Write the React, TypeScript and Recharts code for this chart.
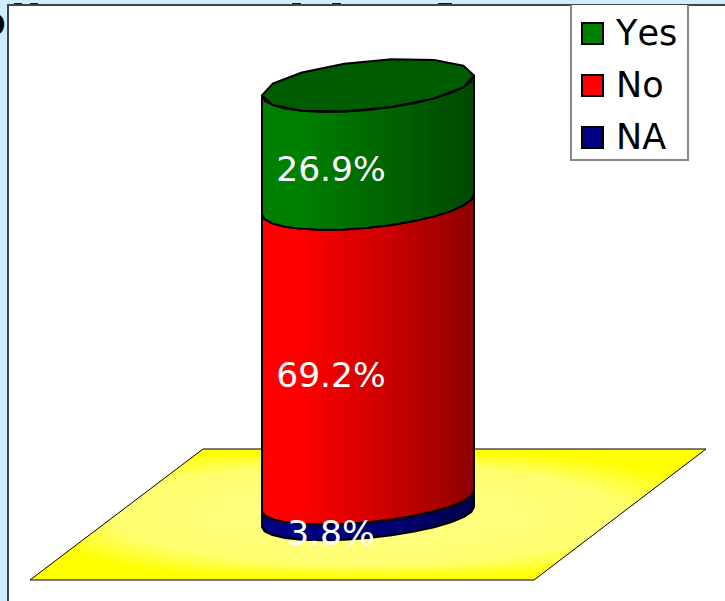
import { BarChart, Bar, XAxis, YAxis, LabelList, Legend, Customized } from "recharts";

const CATEGORIES = ["Response"];
const YES_VALUES = [26.9];
const NO_VALUES = [69.2];
const NA_VALUES = [3.8];

const data = CATEGORIES.map((name, i) => ({
  name,
  Yes: YES_VALUES[i],
  No: NO_VALUES[i],
  NA: NA_VALUES[i],
}));

const WIDTH = 725;
const HEIGHT = 601;
const MARGIN = { top: 85, right: 100, bottom: 84, left: 111 };
const PLOT_H = HEIGHT - MARGIN.top - MARGIN.bottom;
const FONT = "'DejaVu Sans', sans-serif";
const FLOOR_POINTS = "203,449 706,449 534,580 30,580";

// rim of the cylinder, a skewed ellipse
const RIM_SKEW = 10;
const RIM_STEPS = 14;
// the source is a perspective view, so the scale sags a little along the height
const SAG = 13;

// bits of the page title that stick out above the panel
const TITLE_TIPS = [
  [14, 8],
  [30, 8],
  [292, 9],
  [332, 9],
  [438, 14],
];

function heightShare(y: number) {
  return (MARGIN.top + PLOT_H - y) / PLOT_H;
}

function project(y: number) {
  const t = heightShare(y);
  return y + SAG * t * (1 - t);
}

function rimPoints(cx: number, rx: number, y: number, from: number, to: number) {
  const depth = 21 + 3.5 * heightShare(y); // rims open up towards the top
  const pts: string[] = [];
  for (let i = 0; i <= RIM_STEPS; i++) {
    const a = from + ((to - from) * i) / RIM_STEPS;
    const px = cx + rx * Math.cos(a);
    const py = y - RIM_SKEW * Math.cos(a) + depth * Math.sin(a);
    pts.push(`${px.toFixed(1)},${py.toFixed(1)}`);
  }
  return pts;
}

function CylinderSegment(props: any) {
  const { x, y, width, height, gradient, cap, capColor } = props;
  const rx = width / 2;
  const cx = x + rx;
  const top = project(y);
  const bottom = project(y + height);
  const lower = rimPoints(cx, rx, bottom, Math.PI, 0);
  const upper = rimPoints(cx, rx, top, 0, Math.PI);
  return (
    <g>
      <polygon
        points={[...lower, ...upper].join(" ")}
        fill={`url(#${gradient})`}
        stroke="#000"
        strokeWidth={2}
        strokeLinejoin="round"
      />
      {cap && (
        <polygon
          points={rimPoints(cx, rx, top, 0, Math.PI * 2).join(" ")}
          fill={capColor}
          stroke="#000"
          strokeWidth={2}
          strokeLinejoin="round"
        />
      )}
    </g>
  );
}

function Floor() {
  return (
    <g>
      <polygon points={FLOOR_POINTS} fill="url(#floorGrad)" />
      <polygon points={FLOOR_POINTS} fill="url(#floorEdge)" stroke="#000" strokeWidth={1} />
    </g>
  );
}

function LegendBox({ payload }: any) {
  const items = [...(payload || [])].reverse();
  return (
    <div
      style={{
        width: 119,
        height: 156,
        boxSizing: "border-box",
        background: "#fff",
        border: "2px solid #888",
        borderTop: "none",
        paddingTop: 2,
        fontFamily: FONT,
        fontSize: 35,
        fontKerning: "none",
        color: "#000",
      }}
    >
      {items.map((item: any) => (
        <div key={item.value} style={{ display: "flex", alignItems: "center", height: 52, marginLeft: 9 }}>
          <span
            style={{
              width: 23,
              height: 23,
              boxSizing: "border-box",
              background: item.color,
              border: "2px solid #000",
              marginRight: 12,
            }}
          />
          {item.value}
        </div>
      ))}
    </div>
  );
}

function shaded(id: string, color: string, mid: string, end: string) {
  return (
    <linearGradient id={id} gradientUnits="userSpaceOnUse" x1="262" y1="0" x2="474" y2="0">
      <stop offset="0%" stopColor={color} />
      <stop offset="18%" stopColor={color} />
      <stop offset="65%" stopColor={mid} />
      <stop offset="100%" stopColor={end} />
    </linearGradient>
  );
}

export default function App() {
  const labelStyle = { fill: "#fff", fontSize: 34.5, fontFamily: FONT };
  const fmt = (v: any) => `${v}%`;
  return (
    <div style={{ position: "absolute", left: 0, top: 0, width: WIDTH, height: HEIGHT, overflow: "hidden", background: "#cceeff" }}>
      <span
        style={{
          position: "absolute",
          left: -20,
          top: 3.5,
          fontFamily: FONT,
          fontWeight: "bold",
          fontSize: 36,
          lineHeight: "36px",
          color: "#000",
        }}
      >
        p
      </span>
      {TITLE_TIPS.map(([left, width]) => (
        <div key={left} style={{ position: "absolute", left, top: 3, width, height: 2, background: "#111" }} />
      ))}
      <div
        style={{
          position: "absolute",
          left: 7,
          top: 4,
          right: -4,
          bottom: -4,
          background: "#fff",
          border: "2px solid #444",
        }}
      />
      <div style={{ position: "absolute", left: 0, top: 0 }}>
        <BarChart width={WIDTH} height={HEIGHT} data={data} margin={MARGIN} barSize={212}>
          <defs>
            {shaded("gradYes", "#008000", "#006000", "#004800")}
            {shaded("gradNo", "#ff0000", "#c40000", "#8c0000")}
            {shaded("gradNA", "#000080", "#000070", "#000048")}
            <radialGradient id="floorGrad" cx="50%" cy="50%" r="54%">
              <stop offset="0%" stopColor="#ffff88" />
              <stop offset="70%" stopColor="#ffff70" />
              <stop offset="100%" stopColor="#ffff00" />
            </radialGradient>
            <linearGradient id="floorEdge" x1="0" y1="0" x2="0" y2="1">
              <stop offset="0%" stopColor="#ffff00" />
              <stop offset="10%" stopColor="#ffff00" stopOpacity={0} />
              <stop offset="90%" stopColor="#ffff00" stopOpacity={0} />
              <stop offset="100%" stopColor="#ffff00" />
            </linearGradient>
          </defs>
          <Customized component={Floor} />
          <XAxis dataKey="name" hide />
          <YAxis hide domain={[0, 100]} />
          <Legend
            layout="vertical"
            align="center"
            verticalAlign="middle"
            content={<LegendBox />}
            wrapperStyle={{ position: "absolute", left: 570, top: 5, width: 119, height: 156 }}
          />
          <Bar
            dataKey="NA"
            stackId="a"
            fill="#000080"
            isAnimationActive={false}
            shape={<CylinderSegment gradient="gradNA" />}
          >
            <LabelList dataKey="NA" position="center" dx={-37} dy={24} formatter={fmt} style={labelStyle} />
          </Bar>
          <Bar
            dataKey="No"
            stackId="a"
            fill="#ff0000"
            isAnimationActive={false}
            shape={<CylinderSegment gradient="gradNo" />}
          >
            <LabelList dataKey="No" position="center" dx={-37} dy={24} formatter={fmt} style={labelStyle} />
          </Bar>
          <Bar
            dataKey="Yes"
            stackId="a"
            fill="#008000"
            isAnimationActive={false}
            shape={<CylinderSegment gradient="gradYes" cap capColor="#005c00" />}
          >
            <LabelList dataKey="Yes" position="center" dx={-37} dy={25} formatter={fmt} style={labelStyle} />
          </Bar>
        </BarChart>
      </div>
    </div>
  );
}
